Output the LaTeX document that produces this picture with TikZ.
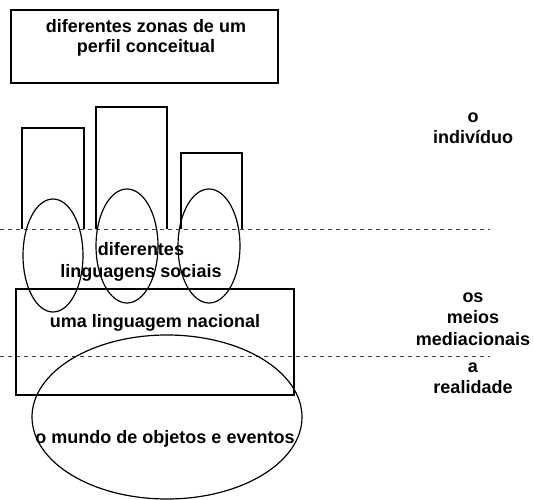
\documentclass[tikz,border=0pt]{standalone}
\usepackage{fontspec}
\setmainfont{Liberation Sans}
\begin{document}
\begin{tikzpicture}[x=1pt,y=-1pt,
  shape line/.style={line width=1.2pt},
  sep line/.style={line width=0.6pt, dash pattern=on 4pt off 4pt, black!75},
  lbl/.style={font=\fontsize{18}{21.5}\selectfont\bfseries, align=center, inner sep=0pt}]
\useasboundingbox (0,0) rectangle (533,500);
% top box
\draw[shape line] (11,10) rectangle (278,83);
\node[lbl, font=\fontsize{18}{19.5}\selectfont\bfseries] (zonas) at (146,38) {diferentes zonas de um\\perfil conceitual};
% small rectangles
\draw[shape line] (22,229) -- (22,128) -- (84,128) -- (84,229);
\draw[shape line] (96,229) -- (96,107) -- (167,107) -- (167,229);
\draw[shape line] (181,229) -- (181,153) -- (242,153) -- (242,229);
% dashed separators
\draw[sep line] (0,229.5) -- (490,229.5);
\draw[sep line] (0,356) -- (490,356);
% ellipses
\draw[shape line] (53,255.5) ellipse [x radius=30, y radius=56.5];
\draw[shape line] (127,246) ellipse [x radius=31, y radius=57];
\draw[shape line] (209,246) ellipse [x radius=31, y radius=57];
\node[lbl] (sociais) at (141,262) {diferentes\\linguagens sociais};
% national language box
\draw[shape line] (16,289) rectangle (294,395);
\node[lbl] (nacional) at (155,323) {uma linguagem nacional};
% world ellipse
\draw[shape line] (167,417) ellipse [x radius=135, y radius=82];
\node[lbl] (mundo) at (165,439) {o mundo de objetos e eventos};
% right labels
\node[lbl] (individuo) at (473,128) {o\\indivíduo};
\node[lbl] (meios) at (473,319) {os\\meios\\mediacionais};
\node[lbl] (realidade) at (473,378) {a\\realidade};
\end{tikzpicture}
\end{document}
